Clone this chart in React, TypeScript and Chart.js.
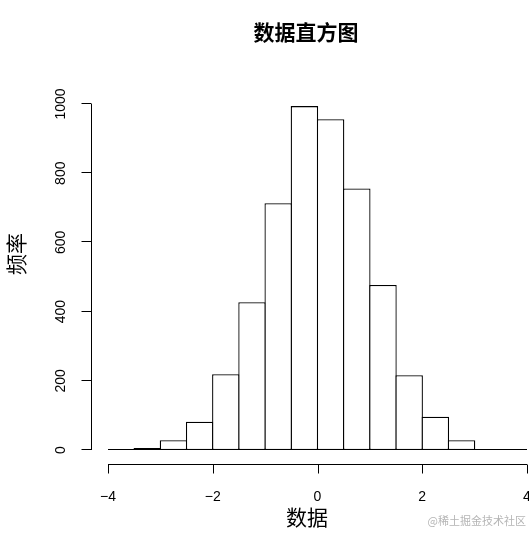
import React, { useEffect, useRef } from "react";
import { Chart, registerables } from "chart.js";

Chart.register(...registerables);

const binCenters = [-3.75, -3.25, -2.75, -2.25, -1.75, -1.25, -0.75, -0.25, 0.25, 0.75, 1.25, 1.75, 2.25, 2.75, 3.25, 3.75];
const counts = [0, 6, 28, 82, 219, 427, 713, 994, 956, 756, 477, 216, 96, 28, 3, 0];
const xTicks = [-4, -2, 0, 2, 4];
const xTickLabels = ["\u22124", "\u22122", "0", "2", "4"];
const yTicks = [0, 200, 400, 600, 800, 1000];
const yTickLabels = ["0", "200", "400", "600", "800", "1000"];
const titleText = "数据直方图";
const xTitle = "数据";
const yTitle = "频率";
const watermark = "@稀土掘金技术社区";

const CJK = '"Noto Sans CJK SC", sans-serif';
const NUM = '"Liberation Sans", Arial, sans-serif';

const axesPlugin = {
  id: "rAxes",
  afterDraw(chart: any) {
    const ctx = chart.ctx as CanvasRenderingContext2D;
    const xs = chart.scales.x;
    const ys = chart.scales.y;
    ctx.save();
    ctx.strokeStyle = "#000";
    ctx.fillStyle = "#000";
    ctx.lineWidth = 1;

    // baseline of histogram (covers zero-count bins)
    const y0 = Math.round(ys.getPixelForValue(0)) - 0.5;
    ctx.beginPath();
    ctx.moveTo(xs.getPixelForValue(xTicks[0]), y0);
    ctx.lineTo(xs.getPixelForValue(xTicks[xTicks.length - 1]), y0);
    ctx.stroke();

    // Y axis
    const ax = 91.5;
    ctx.beginPath();
    ctx.moveTo(ax, ys.getPixelForValue(yTicks[0]));
    ctx.lineTo(ax, ys.getPixelForValue(yTicks[yTicks.length - 1]));
    yTicks.forEach((t) => {
      const p = Math.round(ys.getPixelForValue(t)) - 0.5;
      ctx.moveTo(ax, p);
      ctx.lineTo(ax - 10, p);
    });
    ctx.stroke();
    ctx.font = `14px ${NUM}`;
    ctx.textAlign = "center";
    ctx.textBaseline = "middle";
    yTicks.forEach((t, i) => {
      const p = ys.getPixelForValue(t);
      ctx.save();
      ctx.translate(61, p);
      ctx.rotate(-Math.PI / 2);
      ctx.fillText(yTickLabels[i], 0, 0);
      ctx.restore();
    });

    // X axis
    const ay = 464.5;
    ctx.beginPath();
    ctx.moveTo(xs.getPixelForValue(xTicks[0]), ay);
    ctx.lineTo(xs.getPixelForValue(xTicks[xTicks.length - 1]), ay);
    xTicks.forEach((t) => {
      const p = Math.round(xs.getPixelForValue(t)) + 0.5;
      ctx.moveTo(p, ay);
      ctx.lineTo(p, ay + 9);
    });
    ctx.stroke();
    xTicks.forEach((t, i) => {
      ctx.fillText(xTickLabels[i], xs.getPixelForValue(t), 497);
    });

    // titles
    ctx.font = `bold 21px ${CJK}`;
    ctx.fillText(titleText, 306, 32);
    ctx.font = `21px ${CJK}`;
    ctx.fillText(xTitle, 307, 517);
    ctx.save();
    ctx.translate(16, 254);
    ctx.rotate(-Math.PI / 2);
    ctx.fillText(yTitle, 0, 0);
    ctx.restore();

    // watermark
    ctx.font = `11px ${CJK}`;
    ctx.fillStyle = "#b5b5b5";
    ctx.textAlign = "right";
    ctx.fillText(watermark, 526, 521);
    ctx.restore();
  },
};

export default function App() {
  const ref = useRef<HTMLCanvasElement | null>(null);
  useEffect(() => {
    document.body.style.margin = "0";
    const canvas = ref.current;
    if (!canvas) return;
    const chart = new Chart(canvas, {
      type: "bar",
      data: {
        datasets: [
          {
            data: binCenters.map((x, i) => ({ x, y: counts[i] })),
            backgroundColor: "#ffffff",
            borderColor: "#000000",
            borderWidth: 1.3,
            borderSkipped: false,
            barPercentage: 1.05,
            categoryPercentage: 1,
          },
        ],
      },
      options: {
        animation: false,
        responsive: false,
        maintainAspectRatio: false,
        devicePixelRatio: 1,
        layout: { padding: { left: 108, right: 2, top: 104, bottom: 85 } },
        plugins: { legend: { display: false }, tooltip: { enabled: false }, title: { display: false } },
        scales: {
          x: { type: "linear", min: -4, max: 4, offset: false, display: false },
          y: { type: "linear", min: 0, max: 1000, display: false },
        },
      },
      plugins: [axesPlugin],
    });
    return () => chart.destroy();
  }, []);
  return <canvas ref={ref} width={529} height={535} style={{ display: "block" }} />;
}
